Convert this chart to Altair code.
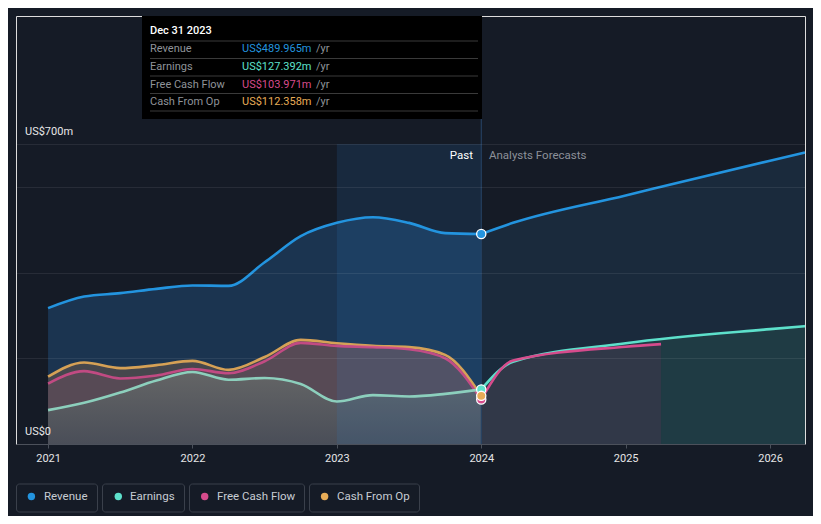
import altair as alt
import pandas as pd

# ---------------- data (US$ millions, trailing twelve months) ----------------
years_past = [2021.0, 2021.25, 2021.5, 2021.75, 2022.0, 2022.25, 2022.5,
              2022.75, 2023.0, 2023.25, 2023.5, 2023.75, 2024.0]
revenue_past = [317, 344, 352, 362, 370, 369, 424, 485, 516, 529, 516, 492, 489.965]
earnings_past = [79, 96, 120, 148, 168, 150, 154, 140, 99, 114, 111, 117, 127.392]
fcf_past = [141, 170, 153, 160, 175, 165, 193, 236, 229, 226, 221, 200, 103.971]
cfo_past = [157, 190, 177, 184, 194, 173, 203, 243, 235, 229, 226, 208, 112.358]

years_fc = [2024.0, 2024.22, 2025.0, 2026.0, 2026.242]
revenue_fc = [489.965, 516, 580, 661, 680]
earnings_fc = [127.392, 192, 235, 268, 275]
years_fc_fcf = [2024.0, 2024.22, 2025.0, 2025.245]
fcf_fc = [103.971, 195, 227, 233]

series_names = ["Revenue", "Earnings", "Free Cash Flow", "Cash From Op"]
series_colors = ["#2394df", "#5de0cb", "#d64b8c", "#e8ac57"]
tooltip_date = "Dec 31 2023"
tooltip_values = ["US$489.965m", "US$127.392m", "US$103.971m", "US$112.358m"]

x_ticks = [2021, 2022, 2023, 2024, 2025, 2026]
y_grid = [0, 200, 400, 600, 700]
y_label_vals = [0, 700]
y_label_txt = ["US$0", "US$700m"]
band_start, band_end = 2023.0, 2024.0

BG = "#151b26"
FONT = "Roboto"


def df(xs, ys):
    return pd.DataFrame({"year": xs, "value": ys})


xscale = alt.Scale(domain=[2020.778, 2026.242], nice=False, zero=False)
yscale = alt.Scale(domain=[0, 998.67], nice=False, zero=False)
xaxis = alt.Axis(values=x_ticks, format="d", title=None, grid=False,
                 domainColor="#3d434e", tickColor="#4a505a", tickSize=4,
                 labelColor="#e6e6e6", labelFontSize=11, labelPadding=4,
                 labelFont=FONT)
yaxis = alt.Axis(values=y_grid, labels=False, ticks=False, domain=False,
                 title=None, grid=True, gridColor="#ffffff", gridOpacity=0.08,
                 zindex=1)
X = alt.X("year:Q", scale=xscale, axis=xaxis)
Y = alt.Y("value:Q", scale=yscale, axis=yaxis)


def area(d, color, opacity=1.0):
    return alt.Chart(d).mark_area(color=color, opacity=opacity,
                                  interpolate="monotone").encode(x=X, y=Y)


def line(d, color, opacity=1.0, width=2.6):
    return alt.Chart(d).mark_line(color=color, opacity=opacity, strokeWidth=width,
                                  interpolate="monotone").encode(x=X, y=Y)


earn_grad = alt.Gradient(
    gradient="linear",
    stops=[alt.GradientStop(color="#646566", offset=0),
           alt.GradientStop(color="#4a4e58", offset=1)],
    x1=1, x2=1, y1=0, y2=1)

layers = [
    area(df(years_past, revenue_past), "#1b3450"),
    area(df(years_fc, revenue_fc), "#1a2a3c"),
    area(df(years_past, cfo_past), "#46474d"),
    area(df(years_past, fcf_past), "#574a55"),
    area(df(years_past, earnings_past), earn_grad),
    area(df(years_fc, earnings_fc), "#1f3b44"),
    area(df(years_fc_fcf, fcf_fc), "#313848"),
]

# highlighted last-year band
band = alt.Chart(pd.DataFrame({"year": [band_start], "year2": [band_end],
                               "value": [0], "value2": [700]})).mark_rect(
    color="#2f80c8", opacity=0.15).encode(x=X, x2="year2:Q", y=Y, y2="value2:Q")
layers.append(band)

vline = alt.Chart(pd.DataFrame({"year": [band_end]})).mark_rule(
    color="#27466a", strokeWidth=1).encode(x=X, y=alt.value(0), y2=alt.value(428))
layers.append(vline)

layers += [
    line(df(years_past, cfo_past), series_colors[3], 0.9),
    line(df(years_past, fcf_past), series_colors[2], 0.85),
    line(df(years_past, earnings_past), "#8fd6c2", 0.95),
    line(df(years_past, revenue_past), series_colors[0]),
    line(df(years_fc, revenue_fc), series_colors[0]),
    line(df(years_fc, earnings_fc), series_colors[1]),
    line(df(years_fc_fcf, fcf_fc), series_colors[2]),
]

# hover dots at Dec 2023
dots_df = pd.DataFrame({
    "year": [2024.0] * 4,
    "value": [revenue_past[-1], earnings_past[-1], cfo_past[-1], fcf_past[-1]],
    "c": [series_colors[0], series_colors[1], series_colors[3], series_colors[2]],
    "o": [1, 2, 4, 3],
})
dots = alt.Chart(dots_df).mark_circle(size=85, opacity=1, stroke="white",
                                      strokeWidth=1.3).encode(
    x=X, y=Y, color=alt.Color("c:N", scale=None), order=alt.Order("o:Q"))
layers.append(dots)

# y labels inside plot
ylab = alt.Chart(pd.DataFrame({"year": [2020.778] * 2, "value": y_label_vals,
                               "t": y_label_txt})).mark_text(
    align="left", baseline="middle", dy=-12, fontSize=11, color="#e8e8e8",
    font=FONT).encode(x=alt.value(9), y=Y, text="t:N")
layers.append(ylab)

one = pd.DataFrame({"a": [0]})


def txt(text, x, y, color, align="left", size=11, weight="normal"):
    return alt.Chart(one).mark_text(text=text, align=align, baseline="middle",
                                    fontSize=size, color=color, font=FONT,
                                    fontWeight=weight).encode(
        x=alt.value(x), y=alt.value(y))


def box(x0, x1, y0, y1, fill=None, stroke=None, radius=0, sw=1):
    kw = dict(cornerRadius=radius)
    if fill:
        kw["fill"] = fill
    else:
        kw["fillOpacity"] = 0
        kw["fill"] = BG
    if stroke:
        kw["stroke"] = stroke
        kw["strokeWidth"] = sw
    return alt.Chart(one).mark_rect(**kw).encode(
        x=alt.value(x0), x2=alt.value(x1), y=alt.value(y0), y2=alt.value(y1))


def hrule(x0, x1, y, color):
    return alt.Chart(one).mark_rule(color=color, strokeWidth=1).encode(
        x=alt.value(x0), x2=alt.value(x1), y=alt.value(y))


layers.append(txt("Past", 457, 140, "#ffffff", align="right", size=11.5))
layers.append(txt("Analysts Forecasts", 473, 140, "#8c9099", size=11.5))

# tooltip box
layers.append(box(126, 466, 0, 103, fill="#000000"))
layers.append(txt(tooltip_date, 134, 15, "#ffffff", weight=500))
sep_y = [25, 42.5, 60, 77.5, 95]
for yy in sep_y:
    layers.append(hrule(134, 462, yy, "#3a3a3a"))
row_y = [33, 51, 68.5, 86]
for name, val, col, yy in zip(series_names, tooltip_values, series_colors, row_y):
    layers.append(txt(name, 134, yy, "#8f9399"))
    layers.append(txt(val, 226, yy, col))
    layers.append(txt("/yr", 300, yy, "#8f9399"))

# legend
leg_boxes = [(0.5, 81.5), (86.5, 168.5), (173.5, 288.5), (293.5, 403.5)]
leg_dot_x = [15.4, 102.3, 188.7, 308.6]
leg_txt_x = [28, 114, 201, 321]
for (x0, x1), dx, tx, name, col in zip(leg_boxes, leg_dot_x, leg_txt_x,
                                       series_names, series_colors):
    layers.append(box(x0, x1, 468, 496, stroke="#3a404b", radius=3))
    layers.append(alt.Chart(one).mark_circle(size=55, color=col, opacity=1).encode(
        x=alt.value(dx), y=alt.value(480.5)))
    layers.append(txt(name, tx, 480.5, "#c7ccd3", size=11.5))

chart = alt.layer(*layers).properties(
    width=789, height=428,
    autosize=alt.AutoSizeParams(type="none"),
    padding={"left": 8, "top": 8, "right": 8, "bottom": 72},
    background=BG,
).configure_view(stroke=None).configure(font=FONT)

chart.save("out.html", embed_options={"renderer": "svg", "actions": False})
